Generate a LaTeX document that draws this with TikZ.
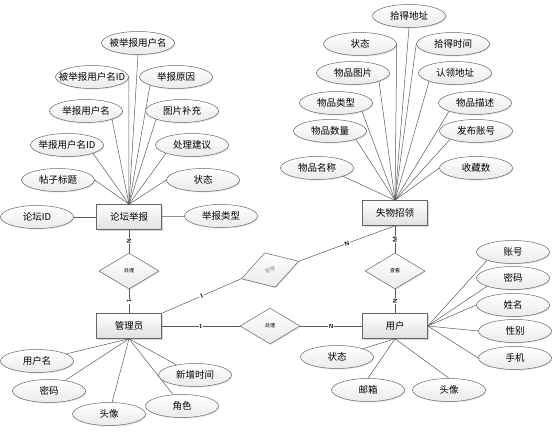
\documentclass[tikz,border=0pt]{standalone}
\usepackage{fontspec}
\newfontfamily\cjk{Noto Sans CJK SC}
\usetikzlibrary{shapes.geometric,shadows}

\begin{document}
\begin{tikzpicture}[x=1pt, y=-1pt,
		conn/.style={draw=black!65, line width=.5pt},
		entity/.style={draw=black!60, line width=.5pt, top color=white, bottom color=black!12,
				drop shadow={shadow xshift=1.2pt, shadow yshift=-1.2pt, fill=black!30},
				minimum width=65pt, minimum height=25pt, font=\cjk\fontsize{9.5}{10}\selectfont},
		attr/.style={ellipse, draw=black!60, line width=.5pt, top color=white, bottom color=black!8,
				drop shadow={shadow xshift=1pt, shadow yshift=-1pt, fill=black!22},
				minimum width=73pt, minimum height=23pt, inner sep=0pt, font=\cjk\fontsize{9.5}{10}\selectfont},
		rel/.style={diamond, draw=black!60, line width=.5pt, top color=white, bottom color=black!8,
				drop shadow={shadow xshift=1pt, shadow yshift=-1pt, fill=black!22},
				minimum width=60pt, minimum height=36pt, aspect=1.67, inner sep=0pt,
				font=\cjk\fontsize{5}{5}\selectfont},
		card/.style={fill=white, inner sep=.6pt, font=\sffamily\bfseries\fontsize{6}{6}\selectfont}]
	\useasboundingbox (0,0) rectangle (554,431);

	\node[entity] (report) at (129,217) {论坛举报};
	\node[entity] (lost) at (395,213) {失物招领};
	\node[entity] (admin) at (129,326) {管理员};
	\node[entity] (user) at (395,326) {用户};

	\node[rel] (handle) at (129,271) {处理};
	\node[rel, rotate=17, text=black!45] (manage) at (270,270) {管理};
	\node[rel] (view) at (395,271) {查看};
	\node[rel] (control) at (270,326) {处理};

	\foreach \name/\px/\py/\anc/\txt in {r1/138/43/south/被举报用户名, r2/92/77/east/被举报用户名ID,
			r3/176/77/south west/举报原因, r4/86/111/south east/举报用户名, r5/182/111/south west/图片补充,
			r6/67/145/south east/举报用户名ID, r7/192/145/south west/处理建议, r8/58/180/east/帖子标题,
			r9/203/180/west/状态}{
			\node[attr] (\name) at (\px,\py) {\makebox[0pt]{\txt}};
			\draw[conn] (\name.\anc) -- (report.north);
		}
	\node[attr] (r10) at (37,217) {\makebox[0pt]{论坛ID}};
	\node[attr] (r11) at (221,216) {\makebox[0pt]{举报类型}};
	\draw[conn] (r10) -- (report);
	\draw[conn] (r11) -- (report);

	\foreach \name/\px/\py/\anc/\txt in {l1/409/16/south/拾得地址, l2/360/44/east/状态,
			l3/453/44/west/拾得时间, l4/353/73/south east/物品图片, l5/455/73/south west/认领地址,
			l6/336/103/south east/物品类型, l7/475/103/south west/物品描述, l8/330/131/south east/物品数量,
			l9/476/131/south west/发布账号, l10/317/168/south east/物品名称, l11/476/168/west/收藏数}{
			\node[attr] (\name) at (\px,\py) {\makebox[0pt]{\txt}};
			\draw[conn] (\name.\anc) -- (lost.north);
		}

	\foreach \name/\px/\py/\txt in {a1/37/361/用户名, a2/49/391/密码, a3/109/414/头像,
			a4/182/406/角色, a5/195/375/新增时间}{
			\node[attr] (\name) at (\px,\py) {\makebox[0pt]{\txt}};
			\draw[conn] (\name) -- (admin.south);
		}

	\foreach \name/\px/\py/\anc/\txt in {u1/513/252/south west/账号, u2/513/278/south west/密码,
			u3/513/305/west/姓名, u4/515/331/west/性别, u5/515/358/west/手机}{
			\node[attr] (\name) at (\px,\py) {\makebox[0pt]{\txt}};
			\draw[conn] (\name.\anc) -- (user.east);
		}
	\foreach \name/\px/\py/\anc/\txt in {u6/337/357/north east/状态, u7/368/390/north/邮箱,
			u8/449/390/north/头像}{
			\node[attr] (\name) at (\px,\py) {\makebox[0pt]{\txt}};
			\draw[conn] (\name.\anc) -- (user.south);
		}

	\draw[conn] (report) -- node[card, rotate=90] {N} (handle);
	\draw[conn] (handle) -- node[card, rotate=90] {1} (admin);
	\draw[conn] (admin.north east) -- node[card, sloped] {1} (manage.west);
	\draw[conn] (manage.east) -- node[card, sloped] {N} (lost.south);
	\draw[conn] (lost) -- node[card, rotate=90] {M} (view);
	\draw[conn] (view) -- node[card, rotate=90] {N} (user);
	\draw[conn] (admin) -- node[card] {1} (control);
	\draw[conn] (control) -- node[card] {N} (user);
\end{tikzpicture}
\end{document}
